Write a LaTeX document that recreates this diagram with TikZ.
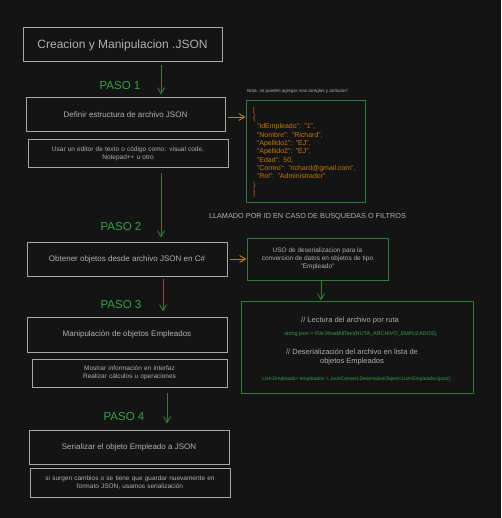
\documentclass[tikz,border=0pt]{standalone}
\usepackage{fontspec}
\setmainfont{Liberation Sans}
\usepackage{xcolor}
\usetikzlibrary{arrows.meta,positioning,calc}
\definecolor{bgdark}{HTML}{141414}
\definecolor{boxgray}{HTML}{A8A8A8}
\definecolor{txtgray}{HTML}{B0B0B0}
\definecolor{pasogreen}{HTML}{36A046}
\definecolor{arrgreen}{HTML}{2E8038}
\definecolor{jgreen}{HTML}{2E7C35}
\definecolor{jorange}{HTML}{C07812}
\newcommand{\fsz}[1]{\fontsize{#1}{#1}\selectfont}
\tikzset{
  box/.style={draw=boxgray, line width=1pt, text=txtgray, align=center,
              inner sep=2pt, font=\fsz{8}},
  subbox/.style={box, font=\fsz{6.5}, text width=190pt},
  gbox/.style={draw=jgreen, line width=1pt, align=center, inner sep=2pt},
  pasotxt/.style={text=pasogreen, font=\fsz{11.5}, inner sep=0pt},
  link/.style={draw=arrgreen, line width=0.9pt, -{Straight Barb[length=6pt,width=7pt]}},
  olink/.style={draw=jorange, line width=0.9pt, -{Straight Barb[length=6pt,width=7pt]}}
}

\begin{document}
\begin{tikzpicture}[x=1pt,y=-1pt]
  \fill[bgdark] (0,0) rectangle (501,518);
  \useasboundingbox (0,0) rectangle (501,518);
  % left column
  \node[box, font=\fsz{12}, minimum width=199pt, minimum height=34pt] (title) at (122.5,45) {Creacion y Manipulacion .JSON};
  \node[pasotxt] (paso1) at (120,86) {PASO 1};
  \node[box, minimum width=199pt, minimum height=34pt] (def) at (125.5,115) {Definir estructura de archivo JSON};
  \node[subbox, minimum width=200pt, minimum height=28pt] (editor) at (128,154) {Usar un editor de texto o código como: visual code,\\[1.5pt] Notepad++ u otro};
  \node[pasotxt] (paso2) at (121,227) {PASO 2};
  \node[box, minimum width=200pt, minimum height=34pt] (obt) at (127,259) {Obtener objetos desde archivo JSON en C\#};
  \node[pasotxt] (paso3) at (121,305) {PASO 3};
  \node[box, minimum width=200pt, minimum height=35pt] (manip) at (127,334.5) {Manipulación de objetos Empleados};
  \node[subbox, minimum width=195pt, minimum height=28pt] (mostrar) at (129.5,373) {Mostrar información en interfaz\\[1.5pt] Realizar cálculos u operaciones};
  \node[pasotxt] (paso4) at (124,417) {PASO 4};
  \node[box, minimum width=200pt, minimum height=34pt] (seri) at (129,447) {Serializar el objeto Empleado a JSON};
  \node[subbox, minimum width=200pt, minimum height=29pt] (cambios) at (130,482.5) {si surgen cambios o se tiene que guardar nuevamente en\\[1.5pt] formato JSON, usamos serialización};
  % right column
  \node[anchor=west, text=txtgray, font=\fsz{4.5}, inner sep=0pt] (nota) at (247,91) {Nota: se pueden agregar mas arreglos y atributos*};
  \node[gbox, text=jorange, font=\fsz{7}, align=left, text width=105pt, inner xsep=7pt,
        minimum width=119pt, minimum height=102pt] (json) at (305.5,152)
    {[\\[1.3pt] \{\\[1.3pt]
     \hspace*{4pt}"IdEmpleado": "1",\\[1.3pt]
     \hspace*{4pt}"Nombre": "Richard",\\[1.3pt]
     \hspace*{4pt}"Apellido1": "EJ",\\[1.3pt]
     \hspace*{4pt}"Apellido2": "EJ",\\[1.3pt]
     \hspace*{4pt}"Edad": 50,\\[1.3pt]
     \hspace*{4pt}"Correo": "richard@gmail.com",\\[1.3pt]
     \hspace*{4pt}"Rol": "Administrador"\\[1.3pt]
     \}\\[1.3pt] ]};
  \node[text=txtgray, font=\fsz{7.3}, inner sep=0pt] (llamado) at (307.5,217) {LLAMADO POR ID EN CASO DE BUSQUEDAS O FILTROS};
  \node[gbox, text=txtgray, font=\fsz{6.5}, minimum width=141pt, minimum height=42pt] (uso) at (317.5,259)
    {USO de deserializacion para la\\[1.3pt] conversion de datos en objetos de tipo\\[1.3pt] "Empleado"};
  \node[gbox, minimum width=232pt, minimum height=92pt] (code) at (357,347) {};
  \node[text=txtgray, font=\fsz{7.5}, inner sep=0pt] (lectura) at (350,321) {// Lectura del archivo por ruta};
  \node[text=pasogreen, font=\fsz{5.4}, inner sep=0pt] (readline) at (361,334) {string json = File.ReadAllText(RUTA\_ARCHIVO\_EMPLEADOS);};
  \node[text=txtgray, font=\fsz{7.5}, align=center, inner sep=0pt] (deser) at (352,357) {// Deserialización del archivo en lista de\\[2pt] objetos Empleados};
  \node[text=pasogreen, font=\fsz{5}, inner sep=0pt] (listline) at (357,379) {List<Empleado> empleados = JsonConvert.DeserializeObject<List<Empleado>>(json);};
  % connectors
  \coordinate (defout) at ([xshift=2pt,yshift=-2pt]def.east);
  \coordinate (usoout) at ([xshift=3.5pt]uso.south);
  \draw[link] ([xshift=38.5pt,yshift=-3pt]title.south) -- ([xshift=35.5pt,yshift=3pt]def.north);
  \draw[link] ([xshift=33pt,yshift=-5pt]editor.south) -- ([xshift=34pt,yshift=4pt]obt.north);
  \draw[link] ([xshift=36pt,yshift=-2pt]obt.south) -- ([xshift=36pt,yshift=5pt]manip.north);
  \draw[link] ([xshift=37.5pt,yshift=-5pt]mostrar.south) -- ([xshift=38pt,yshift=6pt]seri.north);
  \draw[olink] (defout) -- (json.west |- defout);
  \draw[olink] ([xshift=2pt]obt.east) -- (uso.west);
  \draw[link] (usoout) -- (usoout |- code.north);
\end{tikzpicture}
\end{document}
